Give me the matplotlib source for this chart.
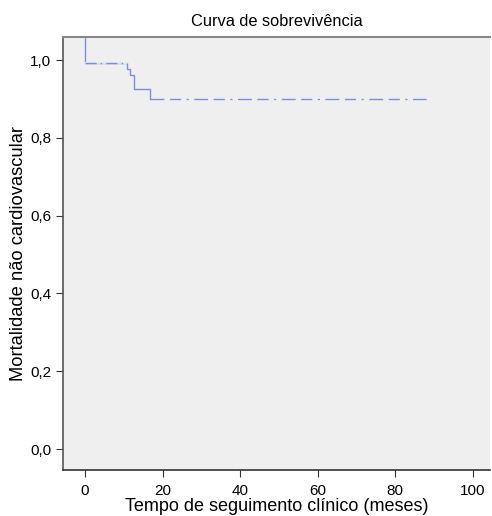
import numpy as np
import matplotlib.pyplot as plt

plt.rcParams['font.family'] = ['Liberation Sans', 'DejaVu Sans']

# tempos (meses) e sobrevivência estimada
tempos = [0, 0, 10.8, 11.6, 12.6, 16.8, 88]
sobrevida = [1.06, 0.992, 0.976, 0.961, 0.925, 0.901, 0.901]

x_ticks = [0, 20, 40, 60, 80, 100]
y_ticks = [0.0, 0.2, 0.4, 0.6, 0.8, 1.0]
y_labels = ['0,0', '0,2', '0,4', '0,6', '0,8', '1,0']

fig = plt.figure(figsize=(4.92, 5.16), dpi=100)
ax = fig.add_axes([0.128, 0.089, 0.868, 0.839])
ax.set_facecolor('#efefef')

cor = '#7b8fd6'
# trecho inicial sólido e degraus
ax.step(tempos[:6], sobrevida[:6], where='post', color=cor, lw=1.0)
ax.plot([0, tempos[2]], [sobrevida[1], sobrevida[1]], color='#efefef', lw=1.2)
ax.plot([0, tempos[2]], [sobrevida[1], sobrevida[1]], color=cor, lw=1.0,
        dashes=[8, 3, 1, 3])
ax.plot(tempos[5:], sobrevida[5:], color=cor, lw=1.0, dashes=[10, 4, 8, 4, 1.5, 4])

ax.set_xlim(-5.7, 104.5)
ax.set_ylim(-0.054, 1.059)
ax.set_xticks(x_ticks)
ax.set_yticks(y_ticks)
ax.set_yticklabels(y_labels)
ax.tick_params(labelsize=11, color='#333333', length=5)
ax.tick_params(axis='x', pad=5)

ax.spines['right'].set_visible(False)
ax.spines['top'].set_color('#888888')
ax.spines['top'].set_linewidth(1.5)
ax.spines['left'].set_color('#555555')
ax.spines['bottom'].set_color('#333333')
ax.spines['left'].set_linewidth(1.2)
ax.spines['bottom'].set_linewidth(1.2)

ax.set_title('Curva de sobrevivência', fontsize=11.8, pad=8)
ax.set_xlabel('Tempo de seguimento clínico (meses)', fontsize=13, labelpad=0)
ax.set_ylabel('Mortalidade não cardiovascular', fontsize=13.2, labelpad=2)

fig.savefig('out.png', dpi=100)
